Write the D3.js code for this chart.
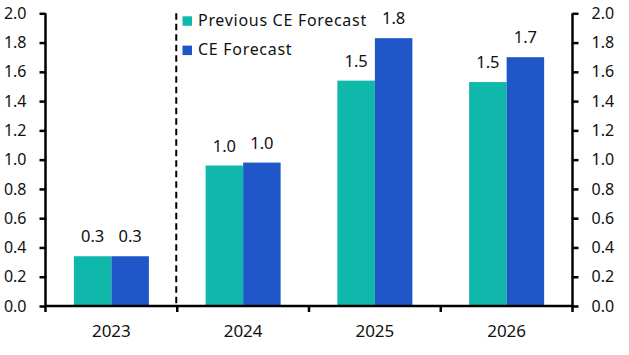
<!DOCTYPE html>
<html><head><meta charset="utf-8">
<script src="https://cdn.jsdelivr.net/npm/d3@7"></script>
<style>body{margin:0;background:#fff}svg{display:block}text{font-family:"Noto Sans",sans-serif}</style>
</head><body><svg id="c" width="629" height="355"></svg>
<script>
const categories = ["2023","2024","2025","2026"];
const previousForecast = [0.34,0.96,1.54,1.53];
const ceForecast = [0.34,0.98,1.83,1.70];
const previousLabels = ["0.3","1.0","1.5","1.5"];
const ceLabels = ["0.3","1.0","1.8","1.7"];
const seriesNames = ["Previous CE Forecast","CE Forecast"];
const yTicks = [0,0.2,0.4,0.6,0.8,1.0,1.2,1.4,1.6,1.8,2.0];
const colors = ["#0fb8aa","#2057c8"];
const FONT = "'Noto Sans',sans-serif";

const svg = d3.select("#c");
const L = 45.5, R = 572.5, T = 13.3, B = 306;
const x = d3.scaleBand().domain(categories).range([L,R]).paddingInner(0).paddingOuter(0);
const y = d3.scaleLinear().domain([0,2]).range([B,T]);
const inner = d3.scaleBand().domain([0,1]).range([0,x.bandwidth()]).paddingInner(0).paddingOuter(0.756);

const series = [previousForecast, ceForecast];
const labels = [previousLabels, ceLabels];
series.forEach((vals,si)=>{
  svg.append("g").selectAll("rect").data(vals).join("rect")
    .attr("x",(d,i)=>x(categories[i])+inner(si))
    .attr("y",d=>y(d))
    .attr("width",inner.bandwidth())
    .attr("height",d=>y(0)-y(d))
    .attr("fill",colors[si]);
  svg.append("g").selectAll("text").data(vals).join("text")
    .attr("x",(d,i)=>x(categories[i])+inner(si)+inner.bandwidth()/2)
    .attr("y",d=>y(d)-14)
    .attr("text-anchor","middle")
    .attr("font-size",16.5)
    .attr("fill","#111")
    .text((d,i)=>labels[si][i]);
});

// dashed divider
svg.append("line").attr("x1",x("2024")-1).attr("x2",x("2024")-1).attr("y1",y(2)).attr("y2",y(0))
  .attr("stroke","#000").attr("stroke-width",2).attr("stroke-dasharray","6.5,4");

const fmt = d3.format(".1f");
const left = svg.append("g").attr("transform",`translate(${L},0)`)
  .call(d3.axisLeft(y).tickValues(yTicks).tickFormat(fmt).tickSize(6).tickPadding(13));
const right = svg.append("g").attr("transform",`translate(${R},0)`)
  .call(d3.axisRight(y).tickValues(yTicks).tickFormat(fmt).tickSize(6).tickPadding(13));
const bottom = svg.append("g").attr("transform",`translate(0,${B})`)
  .call(d3.axisBottom(x).tickSize(0).tickPadding(19));
svg.append("g").selectAll("line").data(categories.concat(["end"])).join("line")
  .attr("x1",(d,i)=> i<categories.length ? x(d) : R)
  .attr("x2",(d,i)=> i<categories.length ? x(d) : R)
  .attr("y1",B).attr("y2",B+6).attr("stroke","#000").attr("stroke-width",2.5);
[left,right,bottom].forEach(g=>{
  g.selectAll(".domain").attr("stroke","#000").attr("stroke-width",2.5);
  g.selectAll(".tick line").attr("stroke","#000").attr("stroke-width",2.5);
  g.selectAll("text").attr("font-size",16).attr("fill","#111").style("font-family",FONT);
});
bottom.selectAll("text").attr("font-size",17);
left.select(".domain").attr("d",`M0,${T}V${B}`);
right.select(".domain").attr("d",`M0,${T}V${B}`);
bottom.select(".domain").attr("d",`M${L},0H${R}`);

// legend
const lg = svg.append("g");
seriesNames.forEach((n,i)=>{
  lg.append("rect").attr("x",182.5).attr("y",16.3+i*29.3).attr("width",9.5).attr("height",9.5).attr("fill",colors[i]);
  lg.append("text").attr("x",198).attr("y",25.8+i*29.3).attr("font-size",16)
    .attr("letter-spacing",0.7).attr("fill","#111").text(n);
});
</script></body></html>
